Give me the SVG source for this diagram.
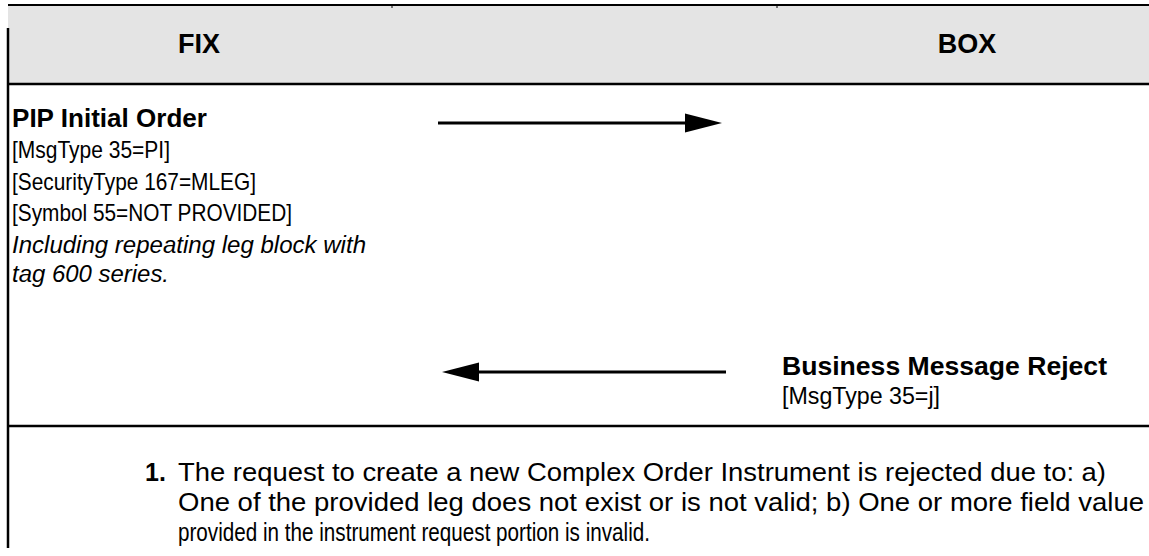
<svg xmlns="http://www.w3.org/2000/svg" width="1149" height="556" viewBox="0 0 1149 556">
<style>
  text { font-family: "Liberation Sans", Arial, sans-serif; fill: #000; }
  .hdr { font-size: 27px; font-weight: bold; text-anchor: middle; }
  .title { font-size: 26px; font-weight: bold; }
  .field { font-size: 24px; }
  .note { font-size: 23px; font-style: italic; }
  .small { font-size: 23px; }
  .para { font-size: 25px; }
  .border { stroke: #000; stroke-width: 2.5; fill: none; }
  .conn { stroke: #000; stroke-width: 3; fill: none; }
</style>
<defs>
  <marker id="ah" viewBox="0 0 37 20" refX="1" refY="10" markerWidth="37" markerHeight="20" markerUnits="userSpaceOnUse" orient="auto">
    <path d="M0,0.5 L37,10 L0,19.5 Z" fill="#000"/>
  </marker>
</defs>
<rect width="1149" height="556" fill="#fff"/>
<g id="frame">
  <rect x="8" y="5" width="1141" height="79" fill="#e4e4e4"/>
  <line class="border" x1="8" y1="5" x2="1149" y2="5" style="stroke-width:2"/>
  <line class="border" x1="8" y1="28" x2="8" y2="548"/>
  <line class="border" x1="8" y1="84" x2="1149" y2="84"/>
  <line class="border" x1="8" y1="426" x2="1149" y2="426"/>
  <line x1="777" y1="5" x2="777" y2="8" stroke="#000" stroke-width="1"/>
  <line x1="392" y1="5" x2="392" y2="8" stroke="#000" stroke-width="1"/>
</g>
<g id="fix-header"><text class="hdr" x="199" y="53">FIX</text></g>
<g id="box-header"><text class="hdr" x="967" y="53">BOX</text></g>
<g id="pip-initial-order">
  <text class="title" x="12" y="127" textLength="195" lengthAdjust="spacingAndGlyphs">PIP Initial Order</text>
  <text class="field" x="12" y="158" textLength="158" lengthAdjust="spacingAndGlyphs">[MsgType 35=PI]</text>
  <text class="field" x="12" y="190" textLength="244" lengthAdjust="spacingAndGlyphs">[SecurityType 167=MLEG]</text>
  <text class="field" x="12" y="221" textLength="280" lengthAdjust="spacingAndGlyphs">[Symbol 55=NOT PROVIDED]</text>
  <text class="note" x="12" y="253" textLength="354" lengthAdjust="spacingAndGlyphs">Including repeating leg block with</text>
  <text class="note" x="12" y="282" textLength="157" lengthAdjust="spacingAndGlyphs">tag 600 series.</text>
</g>
<g id="business-message-reject">
  <text class="title" x="782" y="375" textLength="325" lengthAdjust="spacingAndGlyphs">Business Message Reject</text>
  <text class="small" x="782" y="404" textLength="158" lengthAdjust="spacingAndGlyphs">[MsgType 35=j]</text>
</g>
<g id="connectors">
  <line class="conn" x1="438" y1="123" x2="686" y2="123" marker-end="url(#ah)"/>
  <line class="conn" x1="726" y1="372" x2="478" y2="372" marker-end="url(#ah)"/>
</g>
<g id="footnote">
  <text class="para" x="145" y="481" font-weight="bold">1.</text>
  <text class="para" x="178" y="481" textLength="928" lengthAdjust="spacingAndGlyphs">The request to create a new Complex Order Instrument is rejected due to: a)</text>
  <text class="para" x="178" y="511" textLength="966" lengthAdjust="spacingAndGlyphs">One of the provided leg does not exist or is not valid; b) One or more field value</text>
  <text class="para" x="178" y="541" textLength="472" lengthAdjust="spacingAndGlyphs">provided in the instrument request portion is invalid.</text>
</g>
</svg>
